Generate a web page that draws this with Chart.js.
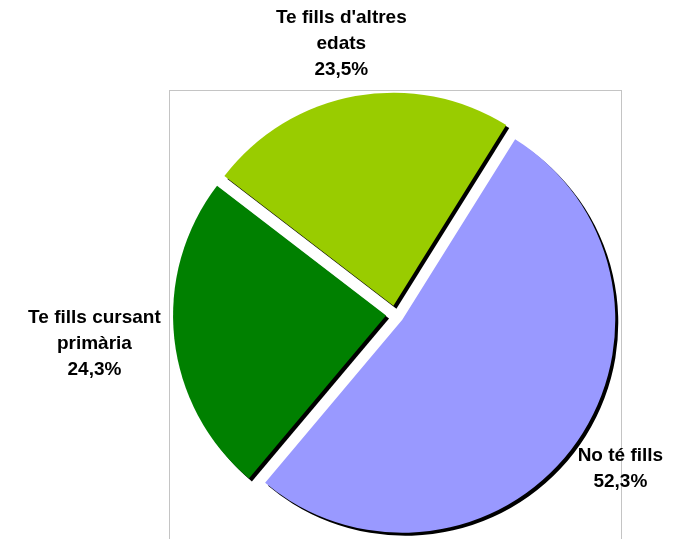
<!DOCTYPE html>
<html>
<head>
<meta charset="utf-8">
<script src="https://cdn.jsdelivr.net/npm/chart.js@4"></script>
<style>
  html, body { margin: 0; padding: 0; background: #fff; }
  #wrap { width: 679px; height: 539px; }
</style>
</head>
<body>
<div id="wrap"><canvas id="pie" width="679" height="539"></canvas></div>
<script>
// Distribució de la població segons si té fills i la seva edat
const categories = ['No té fills', 'Te fills cursant primària', "Te fills d'altres edats"];
const percentages = [52.3, 24.3, 23.5];
const labelLines = [['No té fills'], ['Te fills cursant', 'primària'], ["Te fills d'altres", 'edats']];
const sliceColors = ['#9999ff', '#008000', '#99cc00'];

const EXPLODE = 9;        // px each slice is pulled out from the centre
const LABEL_GAP = 14;     // px between the pie rim and the label block
const LINE_HEIGHT = 26;
const LABEL_FONT = 'bold 19px "Liberation Sans", Arial, sans-serif';

function pctText(v) {
  return v.toFixed(1).replace('.', ',') + '%';
}

// Light grey frame around the plot area (open at the bottom edge of the canvas)
const plotFrame = {
  id: 'plotFrame',
  beforeDatasetsDraw(chart) {
    const { ctx, chartArea: a } = chart;
    ctx.save();
    ctx.strokeStyle = '#c4c4c4';
    ctx.lineWidth = 1;
    ctx.strokeRect(Math.round(a.left) + 0.5, Math.round(a.top) + 0.5,
                   Math.round(a.right - a.left), Math.round(a.bottom - a.top) + 10);
    ctx.restore();
  }
};

// Exploded slices with a hard black drop shadow
const explodedSlices = {
  id: 'explodedSlices',
  beforeDatasetDraw(chart, args) {
    const meta = args.meta;
    const ds = chart.data.datasets[args.index];
    const { ctx } = chart;
    meta.data.forEach((arc, i) => {
      const p = arc.getProps(['x', 'y', 'startAngle', 'endAngle', 'outerRadius'], true);
      const mid = (p.startAngle + p.endAngle) / 2;
      const cx = p.x + Math.cos(mid) * EXPLODE;
      const cy = p.y + Math.sin(mid) * EXPLODE;
      ctx.save();
      ctx.shadowColor = '#000';
      ctx.shadowOffsetX = 3;
      ctx.shadowOffsetY = 3;
      ctx.shadowBlur = 0;
      ctx.beginPath();
      ctx.moveTo(cx, cy);
      ctx.arc(cx, cy, p.outerRadius, p.startAngle, p.endAngle);
      ctx.closePath();
      ctx.fillStyle = ds.backgroundColor[i];
      ctx.fill();
      ctx.restore();
    });
    return false;
  },
  afterDatasetsDraw(chart) {
    const meta = chart.getDatasetMeta(0);
    const { ctx } = chart;
    ctx.save();
    ctx.font = LABEL_FONT;
    ctx.fillStyle = '#000';
    ctx.textAlign = 'center';
    ctx.textBaseline = 'middle';
    meta.data.forEach((arc, i) => {
      const p = arc.getProps(['x', 'y', 'startAngle', 'endAngle', 'outerRadius'], true);
      const mid = (p.startAngle + p.endAngle) / 2;
      const lines = labelLines[i].concat([pctText(percentages[i])]);
      const w = Math.max(...lines.map(l => ctx.measureText(l).width));
      const h = lines.length * LINE_HEIGHT;
      const r = p.outerRadius + EXPLODE + LABEL_GAP;
      const ax = p.x + Math.cos(mid) * r;
      const ay = p.y + Math.sin(mid) * r;
      const bx = ax + Math.cos(mid) * w / 2;
      const by = ay + Math.sin(mid) * h / 2;
      lines.forEach((l, k) => {
        ctx.fillText(l, bx, by - h / 2 + LINE_HEIGHT * (k + 0.5));
      });
    });
    ctx.restore();
  }
};

new Chart(document.getElementById('pie'), {
  type: 'pie',
  data: {
    labels: categories,
    datasets: [{
      data: percentages,
      backgroundColor: sliceColors,
      borderWidth: 0,
      radius: 213
    }]
  },
  options: {
    responsive: false,
    animation: false,
    rotation: 32,
    layout: { padding: { left: 169, right: 58, top: 90, bottom: 0 } },
    plugins: {
      legend: { display: false },
      tooltip: { enabled: false }
    }
  },
  plugins: [plotFrame, explodedSlices]
});
</script>
</body>
</html>
